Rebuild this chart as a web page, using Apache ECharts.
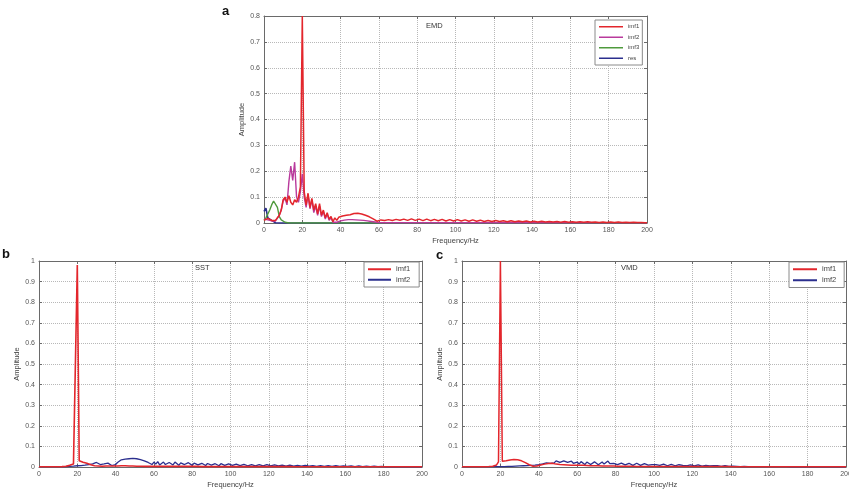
<!DOCTYPE html>
<html>
<head>
<meta charset="utf-8">
<script src="https://cdn.jsdelivr.net/npm/echarts@6/dist/echarts.min.js"></script>
<style>
  html, body { margin: 0; padding: 0; background: #fff; overflow: hidden; }
  #chart { width: 849px; height: 491px; }
</style>
</head>
<body>
<div id="chart"></div>
<script>
// Frequency bins (Hz), 1 Hz resolution from 0 to 200 Hz
const FREQ = Array.from({ length: 201 }, (_, i) => i);

// Panel titles and legend labels
const PANEL_LETTERS = ['a', 'b', 'c'];
const METHODS = ['EMD', 'SST', 'VMD'];
const EMD_NAMES = ['imf1', 'imf2', 'imf3', 'res'];
const SST_NAMES = ['imf1', 'imf2'];
const VMD_NAMES = ['imf1', 'imf2'];

// ---- EMD amplitude spectra (one value per FREQ bin) ----
const EMD_IMF1 = [
  0.010, 0.015, 0.018, 0.015, 0.010, 0.008, 0.010, 0.015, 0.030, 0.050,
  0.090, 0.100, 0.080, 0.105, 0.080, 0.070, 0.090, 0.080, 0.100, 0.140,
  0.800, 0.120, 0.070, 0.115, 0.060, 0.095, 0.050, 0.075, 0.035, 0.075,
  0.030, 0.050, 0.020, 0.040, 0.015, 0.025, 0.005, 0.020, 0.010, 0.022,
  0.015, 0.027, 0.020, 0.030, 0.026, 0.032, 0.035, 0.037, 0.038, 0.038,
  0.037, 0.035, 0.033, 0.030, 0.027, 0.024, 0.020, 0.016, 0.012, 0.007,
  0.004, 0.012, 0.017, 0.010, 0.004, 0.013, 0.018, 0.010, 0.004, 0.014,
  0.020, 0.011, 0.004, 0.015, 0.020, 0.010, 0.004, 0.016, 0.019, 0.010,
  0.004, 0.015, 0.019, 0.009, 0.004, 0.015, 0.018, 0.009, 0.004, 0.014,
  0.018, 0.009, 0.004, 0.014, 0.017, 0.008, 0.004, 0.013, 0.017, 0.008,
  0.004, 0.013, 0.016, 0.008, 0.004, 0.012, 0.015, 0.007, 0.004, 0.012,
  0.014, 0.007, 0.003, 0.011, 0.013, 0.006, 0.003, 0.010, 0.013, 0.006,
  0.003, 0.010, 0.012, 0.006, 0.003, 0.009, 0.012, 0.005, 0.003, 0.009,
  0.011, 0.005, 0.003, 0.008, 0.010, 0.005, 0.002, 0.008, 0.010, 0.004,
  0.002, 0.007, 0.009, 0.004, 0.002, 0.007, 0.009, 0.004, 0.002, 0.006,
  0.008, 0.004, 0.002, 0.006, 0.008, 0.003, 0.002, 0.006, 0.007, 0.003,
  0.002, 0.005, 0.007, 0.003, 0.002, 0.005, 0.007, 0.003, 0.001, 0.005,
  0.006, 0.003, 0.001, 0.004, 0.006, 0.002, 0.001, 0.004, 0.006, 0.002,
  0.001, 0.004, 0.005, 0.002, 0.001, 0.004, 0.005, 0.002, 0.001, 0.003,
  0.004, 0.002, 0.001, 0.003, 0.004, 0.002, 0.001, 0.002, 0.003, 0.001,
  0.001
];
const EMD_IMF2 = [
  0.015, 0.015, 0.012, 0.010, 0.008, 0.006, 0.008, 0.015, 0.030, 0.050,
  0.085, 0.095, 0.070, 0.160, 0.220, 0.165, 0.235, 0.100, 0.080, 0.120,
  0.190, 0.100, 0.060, 0.110, 0.055, 0.090, 0.040, 0.065, 0.030, 0.065,
  0.025, 0.045, 0.015, 0.035, 0.010, 0.020, 0.003, 0.010, 0.003, 0.005,
  0.008, 0.010, 0.011, 0.012, 0.013, 0.013, 0.013, 0.013, 0.012, 0.012,
  0.011, 0.011, 0.010, 0.009, 0.008, 0.007, 0.006, 0.005, 0.004, 0.003,
  0.002, 0.002, 0.001, 0.001, 0.001, 0.001, 0.001, 0.001, 0.001, 0.001,
  0.001, 0.001, 0.001, 0.001, 0.001, 0.001, 0.001, 0.001, 0.001, 0.001,
  0.001, 0.001, 0.001, 0.001, 0.001, 0.001, 0.001, 0.001, 0.001, 0.001,
  0.001, 0.001, 0.001, 0.001, 0.001, 0.001, 0.001, 0.001, 0.001, 0.001,
  0.001, 0.001, 0.001, 0.001, 0.001, 0.001, 0.001, 0.001, 0.001, 0.001,
  0.001, 0.001, 0.001, 0.001, 0.001, 0.001, 0.001, 0.001, 0.001, 0.001,
  0.001, 0.001, 0.001, 0.001, 0.001, 0.001, 0.001, 0.001, 0.001, 0.001,
  0.001, 0.001, 0.001, 0.001, 0.001, 0.001, 0.001, 0.001, 0.001, 0.001,
  0.001, 0.001, 0.001, 0.001, 0.001, 0.001, 0.001, 0.001, 0.001, 0.001,
  0.001, 0.001, 0.001, 0.001, 0.001, 0.001, 0.001, 0.001, 0.001, 0.001,
  0.001, 0.001, 0.001, 0.001, 0.001, 0.001, 0.001, 0.001, 0.001, 0.001,
  0.001, 0.001, 0.001, 0.001, 0.001, 0.001, 0.001, 0.001, 0.001, 0.001,
  0.001, 0.001, 0.001, 0.001, 0.001, 0.001, 0.001, 0.001, 0.001, 0.001,
  0.001, 0.001, 0.001, 0.001, 0.001, 0.001, 0.001, 0.001, 0.001, 0.001,
  0.001
];
const EMD_IMF3 = [
  0.010, 0.020, 0.035, 0.050, 0.070, 0.085, 0.090, 0.060, 0.025, 0.012,
  0.006, 0.003, 0.001, 0, 0, 0, 0, 0, 0, 0,
  0, 0, 0, 0, 0, 0, 0, 0, 0, 0,
  0, 0, 0, 0, 0, 0, 0, 0, 0, 0,
  0, 0, 0, 0, 0, 0, 0, 0, 0, 0,
  0, 0, 0, 0, 0, 0, 0, 0, 0, 0,
  0, 0, 0, 0, 0, 0, 0, 0, 0, 0,
  0, 0, 0, 0, 0, 0, 0, 0, 0, 0,
  0, 0, 0, 0, 0, 0, 0, 0, 0, 0,
  0, 0, 0, 0, 0, 0, 0, 0, 0, 0,
  0, 0, 0, 0, 0, 0, 0, 0, 0, 0,
  0, 0, 0, 0, 0, 0, 0, 0, 0, 0,
  0, 0, 0, 0, 0, 0, 0, 0, 0, 0,
  0, 0, 0, 0, 0, 0, 0, 0, 0, 0,
  0, 0, 0, 0, 0, 0, 0, 0, 0, 0,
  0, 0, 0, 0, 0, 0, 0, 0, 0, 0,
  0, 0, 0, 0, 0, 0, 0, 0, 0, 0,
  0, 0, 0, 0, 0, 0, 0, 0, 0, 0,
  0, 0, 0, 0, 0, 0, 0, 0, 0, 0,
  0, 0, 0, 0, 0, 0, 0, 0, 0, 0,
  0
];
const EMD_RES = [
  0.045, 0.057, 0.020, 0.015, 0.010, 0.004, 0.001, 0, 0, 0,
  0, 0, 0, 0, 0, 0, 0, 0, 0, 0,
  0, 0, 0, 0, 0, 0, 0, 0, 0, 0,
  0, 0, 0, 0, 0, 0, 0, 0, 0, 0,
  0, 0, 0, 0, 0, 0, 0, 0, 0, 0,
  0, 0, 0, 0, 0, 0, 0, 0, 0, 0,
  0, 0, 0, 0, 0, 0, 0, 0, 0, 0,
  0, 0, 0, 0, 0, 0, 0, 0, 0, 0,
  0, 0, 0, 0, 0, 0, 0, 0, 0, 0,
  0, 0, 0, 0, 0, 0, 0, 0, 0, 0,
  0, 0, 0, 0, 0, 0, 0, 0, 0, 0,
  0, 0, 0, 0, 0, 0, 0, 0, 0, 0,
  0, 0, 0, 0, 0, 0, 0, 0, 0, 0,
  0, 0, 0, 0, 0, 0, 0, 0, 0, 0,
  0, 0, 0, 0, 0, 0, 0, 0, 0, 0,
  0, 0, 0, 0, 0, 0, 0, 0, 0, 0,
  0, 0, 0, 0, 0, 0, 0, 0, 0, 0,
  0, 0, 0, 0, 0, 0, 0, 0, 0, 0,
  0, 0, 0, 0, 0, 0, 0, 0, 0, 0,
  0, 0, 0, 0, 0, 0, 0, 0, 0, 0,
  0
];

// ---- SST amplitude spectra ----
const SST_IMF1 = [
  0.001, 0.001, 0.001, 0.001, 0.001, 0.001, 0.001, 0.001, 0.001, 0.001,
  0.001, 0.001, 0.002, 0.003, 0.004, 0.006, 0.008, 0.011, 0.015, 0.022,
  0.980, 0.030, 0.024, 0.023, 0.021, 0.018, 0.015, 0.011, 0.008, 0.006,
  0.005, 0.005, 0.004, 0.004, 0.004, 0.005, 0.005, 0.005, 0.005, 0.005,
  0.005, 0.005, 0.006, 0.006, 0.006, 0.006, 0.005, 0.005, 0.005, 0.005,
  0.005, 0.004, 0.004, 0.004, 0.004, 0.003, 0.003, 0.003, 0.003, 0.003,
  0.003, 0.003, 0.003, 0.003, 0.003, 0.003, 0.003, 0.003, 0.003, 0.003,
  0.003, 0.003, 0.003, 0.003, 0.003, 0.003, 0.003, 0.003, 0.003, 0.003,
  0.003, 0.003, 0.003, 0.003, 0.003, 0.002, 0.002, 0.002, 0.002, 0.002,
  0.002, 0.002, 0.002, 0.002, 0.002, 0.002, 0.002, 0.002, 0.002, 0.002,
  0.002, 0.002, 0.002, 0.002, 0.002, 0.002, 0.002, 0.002, 0.002, 0.002,
  0.002, 0.002, 0.002, 0.002, 0.002, 0.002, 0.002, 0.002, 0.002, 0.002,
  0.002, 0.002, 0.002, 0.002, 0.002, 0.002, 0.002, 0.002, 0.002, 0.002,
  0.002, 0.002, 0.002, 0.001, 0.001, 0.001, 0.001, 0.001, 0.001, 0.001,
  0.001, 0.001, 0.001, 0.001, 0.001, 0.001, 0.001, 0.001, 0.001, 0.001,
  0.001, 0.001, 0.001, 0.001, 0.001, 0.001, 0.001, 0.001, 0.001, 0.001,
  0.001, 0.001, 0.001, 0.001, 0.001, 0.001, 0.001, 0.001, 0.001, 0.001,
  0.001, 0.001, 0.001, 0.001, 0.001, 0.001, 0.001, 0.001, 0.001, 0.001,
  0.001, 0.001, 0.001, 0.001, 0.001, 0.001, 0.001, 0.001, 0.001, 0.001,
  0.001, 0.001, 0.001, 0.001, 0.001, 0.001, 0.001, 0.001, 0.001, 0.001,
  0.001
];
const SST_IMF2 = [
  0.002, 0.002, 0.002, 0.002, 0.002, 0.002, 0.002, 0.002, 0.002, 0.002,
  0.002, 0.002, 0.002, 0.002, 0.002, 0.003, 0.003, 0.003, 0.004, 0.005,
  0.006, 0.006, 0.007, 0.008, 0.009, 0.010, 0.012, 0.013, 0.015, 0.018,
  0.022, 0.016, 0.012, 0.020, 0.015, 0.011, 0.019, 0.013, 0.007, 0.005,
  0.012, 0.022, 0.028, 0.035, 0.030, 0.038, 0.033, 0.040, 0.036, 0.042,
  0.050, 0.040, 0.044, 0.036, 0.038, 0.030, 0.032, 0.022, 0.018, 0.012,
  0.024, 0.014, 0.026, 0.010, 0.018, 0.024, 0.012, 0.008, 0.022, 0.016,
  0.010, 0.024, 0.015, 0.008, 0.020, 0.026, 0.012, 0.008, 0.021, 0.016,
  0.008, 0.019, 0.022, 0.010, 0.007, 0.018, 0.014, 0.007, 0.017, 0.020,
  0.009, 0.006, 0.016, 0.012, 0.006, 0.016, 0.018, 0.008, 0.006, 0.015,
  0.017, 0.008, 0.005, 0.014, 0.016, 0.007, 0.005, 0.013, 0.015, 0.006,
  0.005, 0.012, 0.014, 0.006, 0.004, 0.012, 0.014, 0.006, 0.004, 0.011,
  0.013, 0.005, 0.004, 0.010, 0.012, 0.005, 0.003, 0.009, 0.011, 0.004,
  0.003, 0.009, 0.010, 0.004, 0.003, 0.008, 0.010, 0.004, 0.003, 0.008,
  0.009, 0.004, 0.003, 0.007, 0.009, 0.003, 0.002, 0.007, 0.008, 0.003,
  0.002, 0.006, 0.008, 0.003, 0.002, 0.006, 0.007, 0.003, 0.002, 0.005,
  0.007, 0.003, 0.002, 0.005, 0.006, 0.002, 0.002, 0.005, 0.006, 0.002,
  0.002, 0.004, 0.005, 0.002, 0.001, 0.004, 0.005, 0.002, 0.001, 0.003,
  0.002, 0.001, 0.001, 0.001, 0.001, 0.001, 0.001, 0.001, 0.001, 0.001,
  0.001, 0.001, 0.001, 0.001, 0.001, 0.001, 0.001, 0.001, 0.001, 0.001,
  0.001
];

// ---- VMD amplitude spectra ----
const VMD_IMF1 = [
  0.001, 0.001, 0.001, 0.001, 0.001, 0.001, 0.001, 0.001, 0.001, 0.001,
  0.001, 0.001, 0.001, 0.002, 0.002, 0.003, 0.004, 0.006, 0.010, 0.025,
  1.000, 0.028, 0.028, 0.030, 0.032, 0.034, 0.035, 0.036, 0.036, 0.035,
  0.033, 0.030, 0.026, 0.021, 0.016, 0.011, 0.007, 0.004, 0.003, 0.005,
  0.008, 0.010, 0.012, 0.014, 0.016, 0.017, 0.016, 0.018, 0.015, 0.014,
  0.013, 0.012, 0.012, 0.011, 0.010, 0.010, 0.009, 0.009, 0.008, 0.008,
  0.008, 0.008, 0.007, 0.008, 0.007, 0.007, 0.007, 0.006, 0.007, 0.006,
  0.006, 0.006, 0.006, 0.005, 0.006, 0.005, 0.005, 0.005, 0.005, 0.005,
  0.005, 0.004, 0.005, 0.004, 0.004, 0.004, 0.004, 0.004, 0.004, 0.004,
  0.004, 0.003, 0.004, 0.003, 0.003, 0.003, 0.003, 0.003, 0.003, 0.003,
  0.003, 0.003, 0.003, 0.003, 0.003, 0.003, 0.003, 0.003, 0.003, 0.003,
  0.003, 0.003, 0.003, 0.003, 0.003, 0.003, 0.003, 0.003, 0.003, 0.003,
  0.002, 0.002, 0.002, 0.002, 0.002, 0.002, 0.002, 0.002, 0.002, 0.002,
  0.002, 0.002, 0.002, 0.002, 0.002, 0.002, 0.002, 0.002, 0.002, 0.002,
  0.001, 0.001, 0.001, 0.001, 0.001, 0.001, 0.001, 0.001, 0.001, 0.001,
  0.001, 0.001, 0.001, 0.001, 0.001, 0.001, 0.001, 0.001, 0.001, 0.001,
  0.001, 0.001, 0.001, 0.001, 0.001, 0.001, 0.001, 0.001, 0.001, 0.001,
  0.001, 0.001, 0.001, 0.001, 0.001, 0.001, 0.001, 0.001, 0.001, 0.001,
  0.001, 0.001, 0.001, 0.001, 0.001, 0.001, 0.001, 0.001, 0.001, 0.001,
  0.001, 0.001, 0.001, 0.001, 0.001, 0.001, 0.001, 0.001, 0.001, 0.001,
  0.001
];
const VMD_IMF2 = [
  0.002, 0.002, 0.002, 0.002, 0.002, 0.002, 0.002, 0.002, 0.002, 0.002,
  0.002, 0.002, 0.002, 0.002, 0.002, 0.002, 0.002, 0.002, 0.002, 0.002,
  0.002, 0.002, 0.002, 0.002, 0.003, 0.003, 0.003, 0.003, 0.004, 0.004,
  0.005, 0.005, 0.006, 0.006, 0.007, 0.007, 0.008, 0.008, 0.009, 0.010,
  0.011, 0.013, 0.015, 0.017, 0.020, 0.022, 0.018, 0.024, 0.020, 0.030,
  0.033, 0.022, 0.026, 0.030, 0.032, 0.022, 0.020, 0.028, 0.018, 0.016,
  0.024, 0.014, 0.026, 0.018, 0.012, 0.024, 0.020, 0.012, 0.016, 0.025,
  0.016, 0.011, 0.020, 0.024, 0.014, 0.012, 0.029, 0.016, 0.010, 0.018,
  0.022, 0.012, 0.010, 0.019, 0.020, 0.010, 0.010, 0.018, 0.015, 0.008,
  0.012, 0.018, 0.010, 0.008, 0.016, 0.016, 0.008, 0.009, 0.016, 0.012,
  0.007, 0.012, 0.015, 0.008, 0.007, 0.014, 0.012, 0.006, 0.009, 0.013,
  0.008, 0.006, 0.012, 0.011, 0.005, 0.008, 0.012, 0.006, 0.005, 0.010,
  0.010, 0.005, 0.006, 0.010, 0.007, 0.004, 0.008, 0.008, 0.004, 0.005,
  0.008, 0.006, 0.003, 0.006, 0.007, 0.003, 0.004, 0.006, 0.004, 0.003,
  0.005, 0.004, 0.002, 0.003, 0.004, 0.002, 0.002, 0.003, 0.002, 0.002,
  0.002, 0.002, 0.002, 0.002, 0.002, 0.002, 0.002, 0.002, 0.002, 0.002,
  0.002, 0.002, 0.002, 0.002, 0.002, 0.002, 0.002, 0.002, 0.002, 0.002,
  0.001, 0.001, 0.001, 0.001, 0.001, 0.001, 0.001, 0.001, 0.001, 0.001,
  0.001, 0.001, 0.001, 0.001, 0.001, 0.001, 0.001, 0.001, 0.001, 0.001,
  0.001, 0.001, 0.001, 0.001, 0.001, 0.001, 0.001, 0.001, 0.001, 0.001,
  0.001
];

// ---- rendering ----
const FONT = '"Liberation Sans", Arial, Helvetica, sans-serif';
const RED = '#e3262c', MAGENTA = '#b93a9c', GREEN = '#4f9a3c', NAVY = '#2b2f8e';
const AXIS_COLOR = '#6a6a6a', LABEL_COLOR = '#555', GRID_COLOR = '#b8b8b8';

const toPairs = amp => amp.map((a, i) => [FREQ[i], a]);

// Plot-area placement of the three panels (distances from the canvas edges)
const GRIDS = [
  { left: 264, right: 202, top: 16, bottom: 268 },
  { left: 39, right: 427, top: 261, bottom: 24 },
  { left: 462, right: 3, top: 261, bottom: 24 }
];
const Y_MAX = [0.8, 1, 1];

const xAxes = [], yAxes = [];
GRIDS.forEach((g, gi) => {
  const frame = { show: true, onZero: false, lineStyle: { color: AXIS_COLOR, width: 1 } };
  const ticks = { show: true, inside: true, length: 3, lineStyle: { color: AXIS_COLOR } };
  xAxes.push({
    gridIndex: gi, type: 'value', position: 'bottom', min: 0, max: 200, interval: 20,
    name: 'Frequency/Hz', nameLocation: 'middle', nameGap: 14,
    nameTextStyle: { fontSize: 7.5, color: '#444', fontFamily: FONT },
    axisLine: frame, axisTick: ticks,
    axisLabel: { fontSize: 7, color: LABEL_COLOR, fontFamily: FONT, margin: 4, showMinLabel: true, showMaxLabel: true },
    splitLine: { show: true, lineStyle: { type: 'dotted', color: GRID_COLOR, width: 1 } }
  });
  xAxes.push({
    gridIndex: gi, type: 'value', position: 'top', min: 0, max: 200, interval: 20,
    axisLine: frame, axisTick: ticks, axisLabel: { show: false }, splitLine: { show: false }
  });
  yAxes.push({
    gridIndex: gi, type: 'value', position: 'left', min: 0, max: Y_MAX[gi], interval: 0.1,
    name: 'Amplitude', nameLocation: 'middle', nameGap: 16, nameRotate: 90,
    nameTextStyle: { fontSize: 7.5, color: '#444', fontFamily: FONT },
    axisLine: frame, axisTick: ticks,
    axisLabel: { fontSize: 7, color: LABEL_COLOR, fontFamily: FONT, margin: 4, showMinLabel: true, showMaxLabel: true },
    splitLine: { show: true, lineStyle: { type: 'dotted', color: GRID_COLOR, width: 1 } }
  });
  yAxes.push({
    gridIndex: gi, type: 'value', position: 'right', min: 0, max: Y_MAX[gi], interval: 0.1,
    axisLine: frame, axisTick: ticks, axisLabel: { show: false }, splitLine: { show: false }
  });
});

function line(panel, name, amp, color, width, gi, z) {
  return {
    type: 'line', name: panel + ' ' + name, data: toPairs(amp),
    xAxisIndex: gi * 2, yAxisIndex: gi * 2,
    showSymbol: false, symbol: 'none', smooth: false, clip: true,
    lineStyle: { color: color, width: width }, itemStyle: { color: color },
    z: z, silent: true
  };
}

const series = [
  line('EMD', 'res', EMD_RES, NAVY, 1.6, 0, 2),
  line('EMD', 'imf3', EMD_IMF3, GREEN, 1.4, 0, 3),
  line('EMD', 'imf2', EMD_IMF2, MAGENTA, 1.4, 0, 4),
  line('EMD', 'imf1', EMD_IMF1, RED, 1.5, 0, 5),
  line('SST', 'imf2', SST_IMF2, NAVY, 1.3, 1, 3),
  line('SST', 'imf1', SST_IMF1, RED, 1.6, 1, 4),
  line('VMD', 'imf2', VMD_IMF2, NAVY, 1.3, 2, 3),
  line('VMD', 'imf1', VMD_IMF1, RED, 1.5, 2, 4)
];

const stripPrefix = n => n.split(' ')[1];
function legend(panel, names, left, top, opts) {
  return Object.assign({
    data: names.map(n => panel + ' ' + n), formatter: stripPrefix,
    left: left, top: top, orient: 'vertical', icon: 'rect',
    selectedMode: false, borderColor: '#8a8a8a', borderWidth: 1, backgroundColor: '#fff'
  }, opts);
}

const titleStyle = { fontSize: 7.5, fontWeight: 'normal', color: '#333', fontFamily: FONT };
const letterStyle = { fontSize: 13, fontWeight: 'bold', color: '#111', fontFamily: FONT };

const option = {
  animation: false,
  backgroundColor: '#fff',
  title: [
    { text: PANEL_LETTERS[0], left: 222, top: 5, padding: 0, textStyle: letterStyle },
    { text: PANEL_LETTERS[1], left: 2, top: 248, padding: 0, textStyle: letterStyle },
    { text: PANEL_LETTERS[2], left: 436, top: 249, padding: 0, textStyle: letterStyle },
    { text: METHODS[0], left: 426, top: 22, padding: 0, textStyle: titleStyle },
    { text: METHODS[1], left: 195, top: 264, padding: 0, textStyle: titleStyle },
    { text: METHODS[2], left: 621, top: 264, padding: 0, textStyle: titleStyle }
  ],
  legend: [
    legend('EMD', EMD_NAMES, 595, 20, {
      itemWidth: 24, itemHeight: 1.5, itemGap: 3, padding: [3, 3, 3, 4],
      textStyle: { fontSize: 6, color: '#444', fontFamily: FONT, lineHeight: 7.5 }
    }),
    legend('SST', SST_NAMES, 364, 262, {
      itemWidth: 23, itemHeight: 2, itemGap: 2, padding: [3, 9, 3, 4],
      textStyle: { fontSize: 7.5, color: '#444', fontFamily: FONT, lineHeight: 8.5 }
    }),
    legend('VMD', VMD_NAMES, 789, 262, {
      itemWidth: 24, itemHeight: 2, itemGap: 2.5, padding: [3, 8, 3, 4],
      textStyle: { fontSize: 7.5, color: '#444', fontFamily: FONT, lineHeight: 8.5 }
    })
  ],
  // fixed plot rectangles: labels may sit outside them without shrinking the grid
  grid: GRIDS.map(g => Object.assign({ containLabel: false, outerBoundsMode: 'none', show: false }, g)),
  xAxis: xAxes,
  yAxis: yAxes,
  series: series
};

const chart = echarts.init(document.getElementById('chart'), null, { renderer: 'canvas' });
chart.setOption(option);
</script>
</body>
</html>
